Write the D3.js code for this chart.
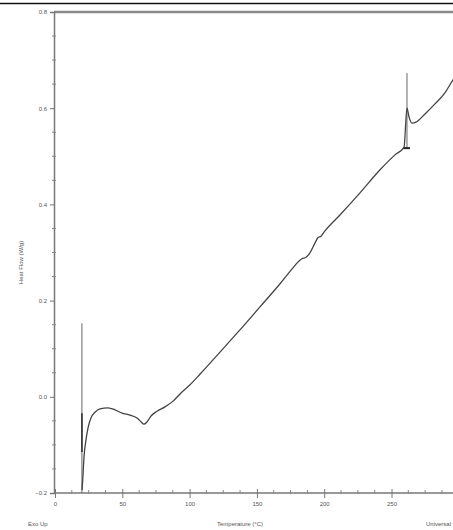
<!DOCTYPE html>
<html>
<head>
<meta charset="utf-8">
<script src="https://cdn.jsdelivr.net/npm/d3@7"></script>
<style>
  body { margin: 0; background: #fff; }
  svg text { font-family: "Liberation Sans", Arial, sans-serif; fill: #555; }
</style>
</head>
<body>
<div id="chart"></div>
<script>
// DSC trace: temperature (°C) vs heat flow (W/g)
const temps = [20.1, 20.8, 21.5, 23.0, 24.5, 26.7, 29.7, 33.4, 39.4, 44.6, 49.8, 55.7, 60.9, 63.9, 66.1,
  68.4, 71.3, 75.8, 81.7, 87.7, 93.6, 100.3, 107.7, 122.6, 137.4, 152.3, 167.2, 176.8, 180.5, 183.5,
  186.5, 189.4, 193.2, 195.4, 197.6, 200.6, 211.7, 226.6, 241.5, 252.6, 259.3, 261.5, 263.0, 265.2,
  268.2, 274.9, 282.3, 289.7, 295.7, 300];
const heatFlow = [-0.194, -0.163, -0.127, -0.090, -0.065, -0.044, -0.032, -0.025, -0.023, -0.027, -0.034,
  -0.038, -0.044, -0.052, -0.057, -0.052, -0.040, -0.030, -0.021, -0.009, 0.008, 0.025, 0.047, 0.093,
  0.139, 0.187, 0.235, 0.268, 0.280, 0.287, 0.290, 0.299, 0.320, 0.331, 0.334, 0.345, 0.378, 0.424,
  0.472, 0.503, 0.519, 0.600, 0.582, 0.569, 0.571, 0.588, 0.609, 0.632, 0.659, 0.675];

// event markers (vertical lines)
const markerTemps = [20.0, 261.5];
const markerTop = [0.153, 0.673];
const markerBottom = [-0.2, 0.517];

const xTicks = [0, 50, 100, 150, 200, 250];
const yTicks = [-0.2, 0.0, 0.2, 0.4, 0.6, 0.8];
const xTitle = 'Temperature (°C)';
const yTitle = 'Heat Flow (W/g)';
const leftNote = 'Exo Up';
const rightNote = 'Universal';

const W = 453, H = 530;
const margin = {left: 55, top: 12, bottom: 37};
const svg = d3.select('#chart').append('svg').attr('width', W).attr('height', H);

const x = d3.scaleLinear().domain([0, 300]).range([margin.left, margin.left + 300 * 1.346]);
const y = d3.scaleLinear().domain([-0.2, 0.8]).range([H - margin.bottom, margin.top]);

// outer border line at the top of the picture
svg.append('line').attr('x1', 0).attr('x2', W).attr('y1', 3.5).attr('y2', 3.5)
  .attr('stroke', '#111').attr('stroke-width', 1.5);

// top frame
svg.append('line').attr('x1', margin.left - 1).attr('x2', W).attr('y1', y(0.8)).attr('y2', y(0.8))
  .attr('stroke', '#8a8a8a').attr('stroke-width', 2.5);

// axes
const yAxis = d3.axisLeft(y).tickValues(yTicks).tickFormat(d3.format('.1f')).tickSize(4).tickPadding(3);
const gy = svg.append('g').attr('transform', `translate(${margin.left - 1},0)`).call(yAxis);
const xAxis = d3.axisBottom(x).tickValues(xTicks).tickFormat(d3.format('d')).tickSize(5).tickPadding(4);
const gx = svg.append('g').attr('transform', `translate(0,${y(-0.2)})`).call(xAxis);
[gx, gy].forEach(g => {
  g.select('.domain').attr('stroke', '#777').attr('stroke-width', 1.5);
  g.selectAll('.tick line').attr('stroke', '#777');
  g.selectAll('.tick text').attr('font-size', 6).attr('fill', '#555')
    .attr('font-family', '"Liberation Sans", Arial, sans-serif');
});
gx.select('.domain').attr('d', `M${margin.left - 1},0H${W}`);
gx.selectAll('.tick line').attr('y1', -4).attr('y2', 5);

// minor ticks
const xMinor = d3.range(0, 300.1, 12.5).filter(t => !xTicks.includes(t));
svg.append('g').selectAll('line').data(xMinor).join('line')
  .attr('x1', d => x(d)).attr('x2', d => x(d))
  .attr('y1', y(-0.2) - 3).attr('y2', y(-0.2) + 1)
  .attr('stroke', '#888');
const yMinor = d3.range(-0.2, 0.8, 0.05).filter(v => !yTicks.some(t => Math.abs(t - v) < 1e-6));
svg.append('g').selectAll('line').data(yMinor).join('line')
  .attr('x1', margin.left - 3).attr('x2', margin.left + 1)
  .attr('y1', d => y(d)).attr('y2', d => y(d))
  .attr('stroke', '#888');

// marker lines
svg.append('g').selectAll('line').data(markerTemps).join('line')
  .attr('x1', d => x(d)).attr('x2', d => x(d))
  .attr('y1', (d, i) => y(markerTop[i])).attr('y2', (d, i) => y(markerBottom[i]))
  .attr('stroke', '#666').attr('stroke-width', 1);
svg.append('line').attr('x1', x(markerTemps[0])).attr('x2', x(markerTemps[0]))
  .attr('y1', y(-0.034)).attr('y2', y(-0.115)).attr('stroke', '#333').attr('stroke-width', 1.6);
svg.append('line').attr('x1', x(markerTemps[1]) - 4).attr('x2', x(markerTemps[1]) + 3)
  .attr('y1', y(markerBottom[1])).attr('y2', y(markerBottom[1])).attr('stroke', '#222').attr('stroke-width', 2);

// DSC curve
const pts = temps.map((t, i) => [t, heatFlow[i]]);
svg.append('path').datum(pts)
  .attr('fill', 'none').attr('stroke', '#444').attr('stroke-width', 1.3)
  .attr('d', d3.line().x(d => x(d[0])).y(d => y(d[1])).curve(d3.curveMonotoneX));

// titles and notes
svg.append('text').attr('transform', `translate(23,${(y(0.8) + y(-0.2)) / 2 + 10}) rotate(-90)`)
  .attr('text-anchor', 'middle').attr('font-size', 6).text(yTitle);
svg.append('text').attr('x', 240).attr('y', 526).attr('text-anchor', 'middle').attr('font-size', 6).text(xTitle);
svg.append('text').attr('x', 28).attr('y', 526).attr('font-size', 6).text(leftNote);
svg.append('text').attr('x', 451).attr('y', 526).attr('text-anchor', 'end').attr('font-size', 6).text(rightNote);
</script>
</body>
</html>
